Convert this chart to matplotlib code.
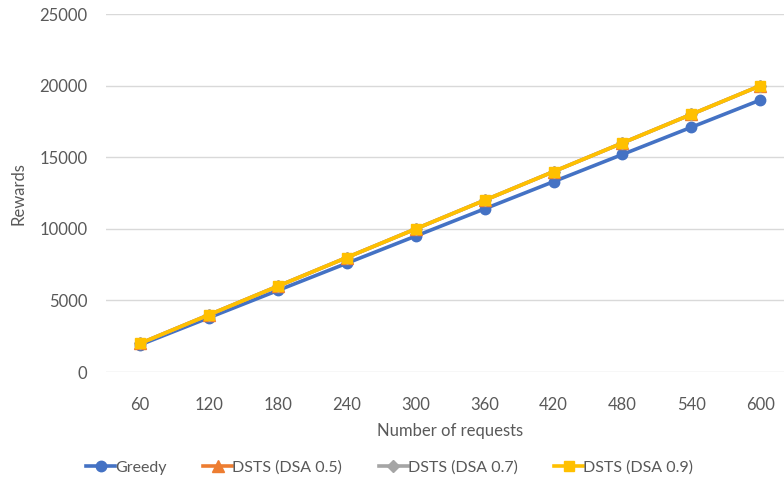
import numpy as np
import matplotlib.pyplot as plt
import matplotlib as mpl

mpl.rcParams["font.family"] = ["Lato", "DejaVu Sans"]
mpl.rcParams["font.size"] = 12

requests = [60, 120, 180, 240, 300, 360, 420, 480, 540, 600]
greedy = [1900, 3800, 5700, 7600, 9500, 11400, 13300, 15200, 17100, 19000]
dsts_05 = [2000, 4000, 6000, 8000, 10000, 12000, 14000, 16000, 18000, 20000]
dsts_07 = [2000, 4000, 6000, 8000, 10000, 12000, 14000, 16000, 18000, 20000]
dsts_09 = [2000, 4000, 6000, 8000, 10000, 12000, 14000, 16000, 18000, 20000]

txt = "#595959"
fig = plt.figure(figsize=(7.84, 4.87), dpi=100)
ax = fig.add_axes([0.1347, 0.236, 0.879, 0.735])

x = np.arange(len(requests))
ax.plot(x, greedy, color="#4472C4", lw=2.6, marker="o", ms=7.5, label="Greedy")
ax.plot(x, dsts_05, color="#ED7D31", lw=2.6, marker="^", ms=8, label="DSTS (DSA 0.5)")
ax.plot(x, dsts_07, color="#A5A5A5", lw=2.6, marker="D", ms=6.5, label="DSTS (DSA 0.7)")
ax.plot(x, dsts_09, color="#FFC000", lw=2.6, marker="s", ms=7.5, label="DSTS (DSA 0.9)")

ax.set_xlim(-0.5, len(requests) - 0.5)
ax.set_ylim(0, 25000)
ax.set_yticks(np.arange(0, 25001, 5000))
ax.set_xticks(x)
ax.set_xticklabels([str(r) for r in requests])
ax.grid(axis="y", color="#D9D9D9", lw=1)
ax.set_axisbelow(True)
for s in ax.spines.values():
    s.set_visible(False)
ax.tick_params(axis="y", length=0, colors=txt, labelsize=12, pad=13)
ax.tick_params(axis="x", length=0, colors=txt, labelsize=12, pad=18)

ax.set_xlabel("Number of requests", color=txt, fontsize=12, labelpad=7)
ax.set_ylabel("Rewards", color=txt, fontsize=12, labelpad=9)

leg = fig.legend(loc="center", bbox_to_anchor=(0.497, 0.04), ncol=4, frameon=False,
                 fontsize=11.5, handlelength=1.8, handletextpad=0.0, columnspacing=2.3)
for t in leg.get_texts():
    t.set_color(txt)

fig.savefig("out.png", dpi=100)
